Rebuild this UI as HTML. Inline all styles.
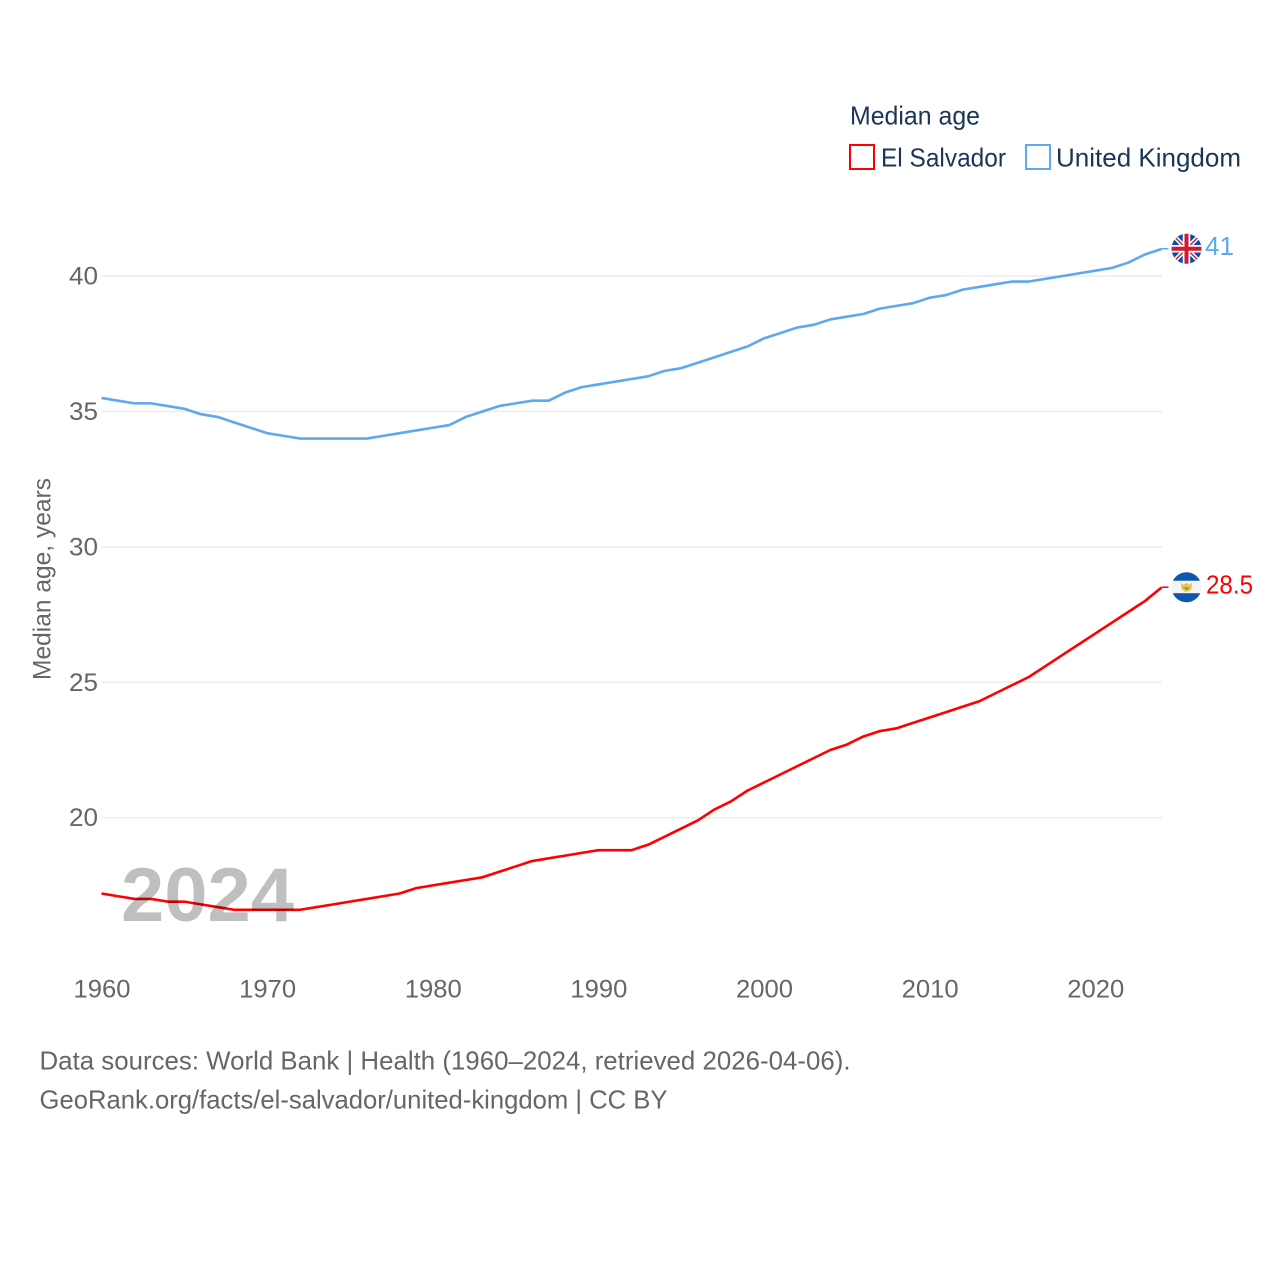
<!DOCTYPE html>
<html lang="en">
<head>
<meta charset="utf-8">
<title>Median age: El Salvador vs United Kingdom</title>
<style>
html,body{margin:0;padding:0;background:#fff;width:1280px;height:1280px;overflow:hidden}
svg{display:block}
text{font-family:"Liberation Sans",sans-serif}
</style>
</head>
<body>
<svg id="chart" xmlns="http://www.w3.org/2000/svg" width="1280" height="1280" viewBox="0 0 1280 1280">
  <g id="grid"></g>
  <g id="yticks"></g>
  <g id="xticks"></g>
  <text transform="translate(50.5,680) rotate(-90)" font-size="25" fill="#666" textLength="202" lengthAdjust="spacingAndGlyphs">Median age, years</text>
  <g id="series"></g>

  <text x="121" y="921" font-size="76" font-weight="700" fill="#000" fill-opacity="0.25" textLength="173" lengthAdjust="spacingAndGlyphs">2024</text>

  <g>
    <text x="850" y="124.5" font-size="26" fill="#1b3557" textLength="130" lengthAdjust="spacingAndGlyphs">Median age</text>
    <rect x="850" y="145" width="24" height="24" fill="#fff" stroke="#ff0000" stroke-width="2"/>
    <text x="881" y="166.5" font-size="26" fill="#1b3557" textLength="125" lengthAdjust="spacingAndGlyphs">El Salvador</text>
    <rect x="1026" y="145" width="24" height="24" fill="#fff" stroke="#5fa8ee" stroke-width="2"/>
    <text x="1056" y="166.5" font-size="26" fill="#1b3557" textLength="185" lengthAdjust="spacingAndGlyphs">United Kingdom</text>
  </g>

  <defs>
    <clipPath id="uk-clip"><circle cx="0" cy="0" r="15"/></clipPath>
    <clipPath id="sv-clip"><circle cx="0" cy="0" r="15"/></clipPath>
  </defs>

  <g id="flag-uk">
    <g clip-path="url(#uk-clip)">
      <rect x="-16" y="-16" width="32" height="32" fill="#0b4aa6"/>
      <path d="M-16,-16L16,16M16,-16L-16,16" stroke="#fff" stroke-width="4.5"/>
      <path d="M-16,-16L16,16M16,-16L-16,16" stroke="#d3182f" stroke-width="1.4"/>
      <path d="M0,-16V16M-16,0H16" stroke="#fff" stroke-width="7.5"/>
      <path d="M0,-16V16M-16,0H16" stroke="#d3182f" stroke-width="4"/>
    </g>
  </g>

  <g id="flag-sv">
    <g clip-path="url(#sv-clip)">
      <rect x="-16" y="-16" width="32" height="32" fill="#f4f4f4"/>
      <rect x="-16" y="-16" width="32" height="9.5" fill="#0f56ad"/>
      <rect x="-16" y="6" width="32" height="11" fill="#0f56ad"/>
      <path d="M-5.5,-4.5L-3,-2.5L0,-4.5L3,-2.5L5.5,-4.5L5,1.5Q3,4.5 0,4.5Q-3,4.5 -5,1.5Z" fill="#eac44f"/>
      <path d="M-3.2,.2H3.2L0,3.2Z" fill="#7d9c4a"/>
    </g>
  </g>

  <text id="value-uk" x="1205" font-size="26" fill="#5fa8ee" textLength="29" lengthAdjust="spacingAndGlyphs"></text>
  <text id="value-sv" x="1206" font-size="26" fill="#ff0000" textLength="47" lengthAdjust="spacingAndGlyphs"></text>

  <g>
    <text x="39.5" y="1069.5" font-size="26" fill="#666" textLength="811" lengthAdjust="spacingAndGlyphs">Data sources: World Bank | Health (1960–2024, retrieved 2026-04-06).</text>
    <text x="39.5" y="1108.5" font-size="26" fill="#666" textLength="628" lengthAdjust="spacingAndGlyphs">GeoRank.org/facts/el-salvador/united-kingdom | CC BY</text>
  </g>
</svg>
<script>
const startYear = 1960;
const xTickLabels = [1960, 1970, 1980, 1990, 2000, 2010, 2020];
const yTickLabels = [20, 25, 30, 35, 40];
const ukValues = [35.5,35.4,35.3,35.3,35.2,35.1,34.9,34.8,34.6,34.4,34.2,34.1,34.0,34.0,34.0,34.0,34.0,34.1,34.2,34.3,34.4,34.5,34.8,35.0,35.2,35.3,35.4,35.4,35.7,35.9,36.0,36.1,36.2,36.3,36.5,36.6,36.8,37.0,37.2,37.4,37.7,37.9,38.1,38.2,38.4,38.5,38.6,38.8,38.9,39.0,39.2,39.3,39.5,39.6,39.7,39.8,39.8,39.9,40.0,40.1,40.2,40.3,40.5,40.8,41.0];
const svValues = [17.2,17.1,17.0,17.0,16.9,16.9,16.8,16.7,16.6,16.6,16.6,16.6,16.6,16.7,16.8,16.9,17.0,17.1,17.2,17.4,17.5,17.6,17.7,17.8,18.0,18.2,18.4,18.5,18.6,18.7,18.8,18.8,18.8,19.0,19.3,19.6,19.9,20.3,20.6,21.0,21.3,21.6,21.9,22.2,22.5,22.7,23.0,23.2,23.3,23.5,23.7,23.9,24.1,24.3,24.6,24.9,25.2,25.6,26.0,26.4,26.8,27.2,27.6,28.0,28.5];

const NS = 'http://www.w3.org/2000/svg';
function xScale(year) { return 101.5 + (year - 1960) * (1060 / 64); }
function yScale(v) { return 817.7 - (v - 20) * 27.08; }
function make(tag, attrs, parent) {
  const el = document.createElementNS(NS, tag);
  for (const k in attrs) el.setAttribute(k, attrs[k]);
  parent.appendChild(el);
  return el;
}

const grid = document.getElementById('grid');
const yticks = document.getElementById('yticks');
yTickLabels.forEach(function (t) {
  const line = make('line', {x1: 101.5, x2: 1162, y1: yScale(t), y2: yScale(t), stroke: '#ececec', 'stroke-width': 1.5}, grid);
  
  
  const label = make('text', {x: 98, y: yScale(t) + 8.5, 'font-size': 25, fill: '#666', 'text-anchor': 'end', textLength: 29, lengthAdjust: 'spacingAndGlyphs'}, yticks);
  
  
  label.textContent = t;
});

const xticks = document.getElementById('xticks');
xTickLabels.forEach(function (t) {
  const label = make('text', {x: xScale(t) - 28, y: 997.5, 'font-size': 25, fill: '#666', textLength: 57, lengthAdjust: 'spacingAndGlyphs'}, xticks);
  
  
  label.textContent = t;
});

function drawSeries(values, color, name) {
  const group = document.getElementById('series');
  const d = values.map(function (v, i) {
    return (i ? 'L' : 'M') + xScale(startYear + i).toFixed(2) + ',' + yScale(v).toFixed(2);
  }).join('');
  const path = make('path', {d: d, fill: 'none', stroke: color, 'stroke-width': 2.6, 'stroke-linejoin': 'round'}, group);
  
  
  const lastYear = startYear + values.length - 1;
  const lastValue = values[values.length - 1];
  const stub = make('line', {x1: xScale(lastYear), x2: xScale(lastYear) + 7, y1: yScale(lastValue) - 0.3, y2: yScale(lastValue) - 0.3, stroke: color, 'stroke-width': 1.5}, group);
  
  
}
drawSeries(ukValues, '#5fa8ee', 'united-kingdom-line');
drawSeries(svValues, '#ff0000', 'el-salvador-line');

function placeEnd(flagId, valueId, values) {
  const last = values[values.length - 1];
  const cy = yScale(last);
  document.getElementById(flagId).setAttribute('transform', 'translate(1186.5,' + (cy - 0.3).toFixed(2) + ')');
  const label = document.getElementById(valueId);
  label.setAttribute('y', (cy + 6).toFixed(2));
  label.textContent = last;
}
placeEnd('flag-uk', 'value-uk', ukValues);
placeEnd('flag-sv', 'value-sv', svValues);
</script>
</body>
</html>
